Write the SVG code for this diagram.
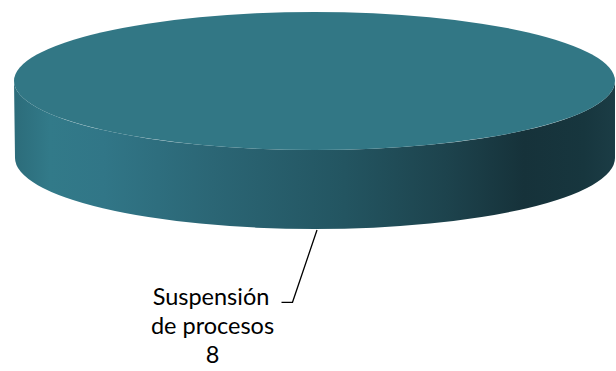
<svg xmlns="http://www.w3.org/2000/svg" width="616" height="371" viewBox="0 0 616 371">
  <defs>
    <linearGradient id="side" gradientUnits="userSpaceOnUse" x1="14" y1="0" x2="614" y2="0">
      <stop offset="0" stop-color="#2c6c7a"/>
      <stop offset="0.06" stop-color="#327a89"/>
      <stop offset="0.15" stop-color="#317687"/>
      <stop offset="0.33" stop-color="#2b6675"/>
      <stop offset="0.55" stop-color="#235561"/>
      <stop offset="0.72" stop-color="#1d434d"/>
      <stop offset="0.85" stop-color="#16323a"/>
      <stop offset="0.95" stop-color="#17363e"/>
      <stop offset="1" stop-color="#1b3c45"/>
    </linearGradient>
    <style>
      .lbl { font-family: Lato, "Liberation Sans", sans-serif; font-size: 23.5px; fill: #000000; text-anchor: middle; }
      .leader { fill: none; stroke: #000000; stroke-width: 1.3; }
    </style>
  </defs>
  <rect width="616" height="371" fill="#ffffff"/>
  <g id="pie-slice">
    <path d="M14,81 L15,158 A300,71 0 0 0 615,158 L615,81 A300,69 0 0 1 14,81 Z" fill="url(#side)"/>
    <ellipse cx="314.5" cy="81" rx="300.5" ry="69" fill="#327785"/>
  </g>
  <g id="connectors">
    <polyline class="leader" points="317,230 292.5,302.3 281.5,302.3"/>
  </g>
  <g id="label">
    <text class="lbl" x="211" y="304.5">Suspensión</text>
    <text class="lbl" x="212.5" y="333.5">de procesos</text>
    <text class="lbl" x="212.5" y="362.5">8</text>
  </g>
</svg>
